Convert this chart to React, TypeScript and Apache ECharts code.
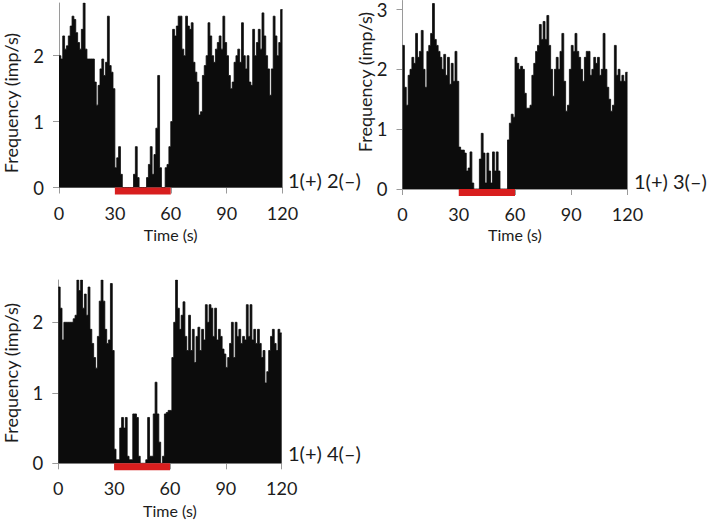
import React, { useEffect, useRef } from "react";
import * as echarts from "echarts";

// Bin width of the histograms, seconds
const BIN_S = 1;
const X_TICKS = [0, 30, 60, 90, 120];

// Firing frequency (imp/s) per 1-s bin, 0..119 s
const freq12 = [
  2.0, 1.95, 2.3, 2.1, 2.15, 2.3, 2.45, 2.6, 2.55, 2.35,
  2.2, 2.1, 2.4, 2.8, 2.1, 1.95, 1.95, 1.95, 1.95, 1.6,
  1.25, 1.55, 1.8, 1.95, 1.7, 1.9, 2.6, 1.85, 1.75, 1.5,
  0.3, 0.45, 0.62, 0.2, 0, 0, 0, 0, 0, 0,
  0.2, 0.62, 0.15, 0, 0, 0, 0, 0.15, 0.35, 0.62,
  0.2, 0.5, 0.9, 1.7, 0.3, 0, 0, 0.3, 0.35, 0.62,
  1.0, 2.4, 2.3, 2.45, 2.6, 2.6, 2.1, 2.0, 2.6, 2.45,
  2.4, 2.5, 1.9, 1.75, 1.6, 1.1, 1.15, 1.7, 1.85, 2.0,
  2.5, 2.3, 2.0, 1.9, 2.1, 2.2, 2.3, 2.1, 2.6, 2.2,
  2.0, 1.7, 1.5, 1.6, 1.9, 2.0, 2.1, 1.9, 2.5, 2.0,
  1.8, 2.0, 1.6, 1.55, 2.4, 2.0, 2.2, 2.4, 2.1, 2.65,
  2.3, 2.0, 1.8, 1.4, 1.8, 2.6, 2.3, 2.0, 2.2, 2.7,
];

const freq13 = [
  2.4, 1.7, 1.4, 1.9, 2.0, 2.2, 2.1, 2.6, 2.2, 2.3,
  2.65, 2.0, 1.7, 2.3, 2.4, 2.6, 3.1, 2.5, 2.4, 2.3,
  2.2, 2.0, 2.25, 1.9, 2.2, 1.75, 2.1, 1.8, 2.3, 1.8,
  0.7, 0.65, 0.65, 0.6, 0.3, 0.35, 0.62, 0.1, 0, 0,
  0, 0.5, 0.93, 0.6, 0.1, 0.6, 0.3, 0.1, 0.62, 0.3,
  0.62, 0.3, 0, 0, 0, 0, 0.82, 1.1, 1.25, 1.2,
  2.2, 2.1, 2.0, 2.05, 2.0, 1.6, 1.35, 1.35, 1.4, 1.9,
  2.1, 2.3, 2.4, 2.75, 2.5, 2.8, 2.5, 2.9, 2.4, 2.0,
  1.55, 2.0, 2.2, 2.0, 2.3, 2.6, 1.8, 1.3, 1.4, 2.0,
  2.4, 2.3, 2.6, 2.3, 2.2, 2.0, 1.8, 2.2, 2.3, 2.3,
  1.9, 2.0, 2.2, 2.1, 2.2, 1.9, 2.0, 2.6, 2.0, 1.7,
  1.5, 1.3, 1.4, 2.4, 1.9, 2.0, 1.8, 1.9, 1.8, 1.95,
];

const freq14 = [
  2.5, 2.2, 1.75, 2.0, 2.0, 2.0, 2.0, 2.0, 2.05, 2.1,
  2.6, 2.45, 2.6, 2.2, 2.4, 2.1, 2.5, 1.9, 1.7, 1.5,
  1.35, 1.8, 2.3, 2.6, 2.3, 1.9, 1.7, 1.75, 2.55, 1.6,
  0.2, 0.05, 0.05, 0.5, 0.65, 0.5, 0.65, 0.1, 0.05, 0.05,
  0.7, 0.7, 0.65, 0.1, 0, 0, 0, 0.05, 0.65, 0.1,
  0.1, 0.7, 1.15, 0.7, 0.3, 0, 0.1, 0.7, 0.72, 0.75,
  0.75, 1.5, 2.0, 2.6, 2.2, 1.9, 2.1, 2.29, 1.8, 1.6,
  2.1, 1.6, 1.9, 1.43, 1.8, 1.93, 1.6, 1.9, 1.75, 2.25,
  2.0, 2.25, 2.2, 1.8, 2.2, 1.75, 1.9, 1.8, 1.62, 1.55,
  1.36, 1.5, 1.7, 2.0, 1.5, 2.0, 1.8, 1.9, 1.7, 1.8,
  1.75, 2.25, 1.8, 2.25, 1.75, 1.9, 1.7, 1.9, 1.7, 1.5,
  1.6, 1.14, 1.3, 1.6, 1.8, 1.9, 1.7, 1.6, 1.9, 1.85,
];

// Stimulation period (s)
const stimPeriod = [30, 60];

const panelLabels = ["1(+) 2(\u2013)", "1(+) 3(\u2013)", "1(+) 4(\u2013)"];
const panelData = [freq12, freq13, freq14];
const yMax = [2.8, 3.15, 2.6];
const yTicks = [
  [0, 1, 2],
  [0, 1, 2, 3],
  [0, 1, 2],
];

const FONT = "Lato, 'Open Sans', sans-serif";
const AXIS_GREY = "#9a9a9a";
const TEXT = "#1c1c1c";
const FILL = "#0c0c0c";
const RED = "#d81e1e";

const grids = [
  { left: 59, top: 3, width: 223.5, height: 184.5 },
  { left: 402.5, top: 0, width: 225, height: 189 },
  { left: 58.3, top: 280, width: 223.4, height: 183.3 },
];

function stepData(vals: number[]) {
  const d = vals.map((v, i) => [i * BIN_S, v]);
  d.push([vals.length * BIN_S, vals[vals.length - 1]]);
  return d;
}

export default function App() {
  const ref = useRef<HTMLDivElement>(null);

  useEffect(() => {
    if (!ref.current) return;
    const chart = echarts.init(ref.current, undefined, { renderer: "svg" });

    const xAxis = grids.map((_, i) => ({
      type: "value",
      gridIndex: i,
      min: 0,
      max: 120,
      interval: 30,
      name: "Time (s)",
      nameLocation: "middle",
      nameGap: i === 1 ? 38 : 40,
      nameTextStyle: { fontFamily: FONT, fontSize: 16, color: TEXT, lineHeight: 14 },
      axisLine: { show: true, lineStyle: { color: AXIS_GREY, width: 1 } },
      axisTick: { show: true, length: 6, lineStyle: { color: AXIS_GREY } },
      axisLabel: {
        fontFamily: FONT,
        fontSize: 18,
        lineHeight: 16,
        color: TEXT,
        margin: 17,
        customValues: X_TICKS,
      },
      splitLine: { show: false },
    }));

    const yAxis = grids.map((_, i) => ({
      type: "value",
      gridIndex: i,
      min: 0,
      max: yMax[i],
      axisLine: { show: true, lineStyle: { color: AXIS_GREY, width: 1 } },
      axisTick: {
        show: true,
        length: 6,
        lineStyle: { color: AXIS_GREY },
        customValues: yTicks[i],
      },
      axisLabel: {
        fontFamily: FONT,
        fontSize: 18.5,
        lineHeight: 16,
        color: TEXT,
        margin: 15,
        customValues: yTicks[i],
      },
      splitLine: { show: false },
    }));

    const lineSeries = panelData.map((vals, i) => ({
      type: "line",
      xAxisIndex: i,
      yAxisIndex: i,
      step: "end",
      symbol: "none",
      data: stepData(vals),
      lineStyle: { color: FILL, width: 0.8 },
      areaStyle: { color: FILL, opacity: 1 },
      z: 2,
    }));

    const stimSeries = panelData.map((_, i) => ({
      type: "custom",
      xAxisIndex: i,
      yAxisIndex: i,
      clip: false,
      silent: true,
      z: 5,
      data: [[stimPeriod[0], stimPeriod[1]]],
      encode: { x: [0, 1] },
      renderItem: (_p: any, api: any) => {
        const a = api.coord([api.value(0), 0]);
        const b = api.coord([api.value(1), 0]);
        return {
          type: "rect",
          shape: { x: a[0], y: a[1], width: b[0] - a[0], height: 7 },
          style: { fill: RED },
        };
      },
    }));

    const yNamePos = [
      [11, 103],
      [365, 82],
      [11, 373],
    ];
    const labelPos = [
      [288, 180],
      [634, 181],
      [288, 453],
    ];

    const graphic: any[] = [];
    yNamePos.forEach(([x, y]) => {
      graphic.push({
        type: "text",
        x,
        y,
        rotation: Math.PI / 2,
        style: {
          text: "Frequency (imp/s)",
          fontFamily: FONT,
          fontSize: 18,
          fill: TEXT,
          textAlign: "center",
          textVerticalAlign: "middle",
        },
      });
    });
    labelPos.forEach(([x, y], i) => {
      graphic.push({
        type: "text",
        x,
        y,
        style: {
          text: panelLabels[i],
          fontFamily: FONT,
          fontSize: 20,
          fill: TEXT,
          textAlign: "left",
          textVerticalAlign: "middle",
        },
      });
    });

    chart.setOption({
      animation: false,
      backgroundColor: "#ffffff",
      grid: grids.map((g) => ({ ...g, containLabel: false })),
      xAxis,
      yAxis,
      series: [...lineSeries, ...stimSeries],
      graphic,
    });

    return () => chart.dispose();
  }, []);

  return (
    <div
      ref={ref}
      style={{ position: "absolute", left: 0, top: 0, width: 709, height: 522 }}
    />
  );
}
